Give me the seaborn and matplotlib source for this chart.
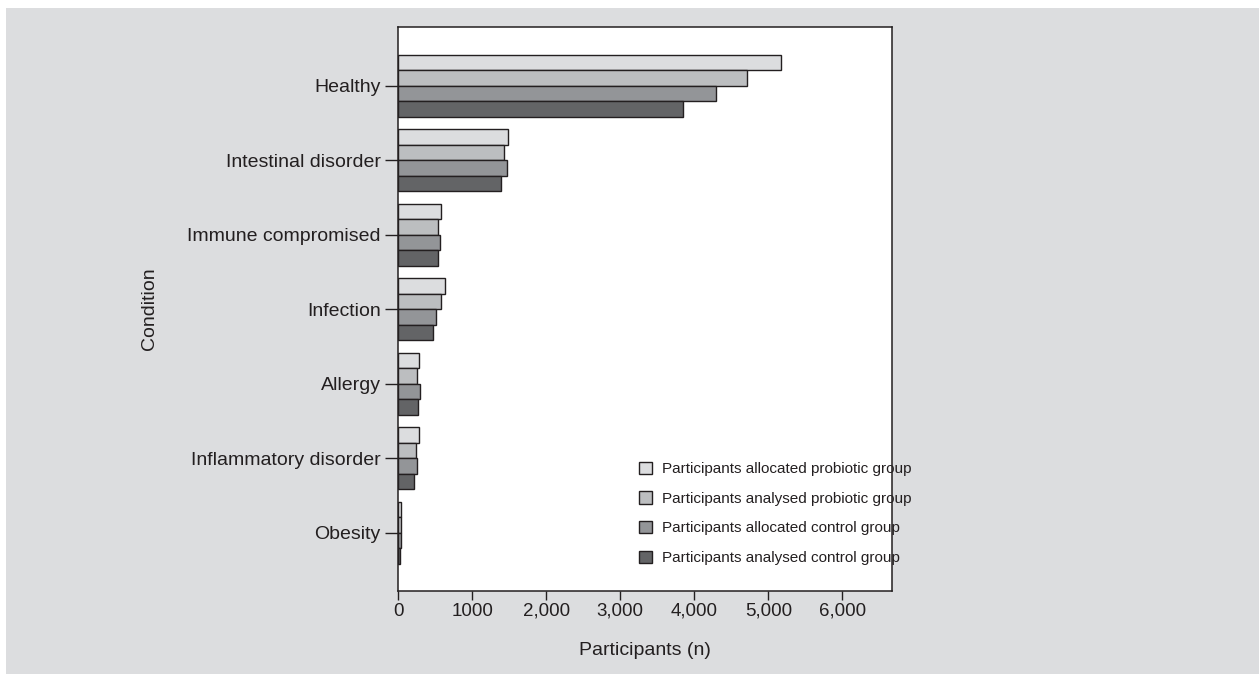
import pandas as pd
import numpy as np
import matplotlib
matplotlib.use('Agg')
import matplotlib.pyplot as plt
from matplotlib.patches import Patch, Rectangle
import seaborn as sns

# 데이터
conditions = ['Healthy', 'Intestinal disorder', 'Immune compromised', 'Infection',
              'Allergy', 'Inflammatory disorder', 'Obesity']
groups = ['Participants allocated probiotic group',
          'Participants analysed probiotic group',
          'Participants allocated control group',
          'Participants analysed control group']
alloc_probiotic = [5175, 1490, 574, 633, 289, 277, 42]
analysed_probiotic = [4708, 1430, 541, 587, 256, 243, 42]
alloc_control = [4296, 1467, 566, 507, 298, 256, 38]
analysed_control = [3854, 1387, 536, 478, 268, 214, 29]
xticks = [0, 1000, 2000, 3000, 4000, 5000, 6000]
xtick_labels = ['0', '1000', '2,000', '3,000', '4,000', '5,000', '6,000']
bar_colors = ['#dcdddf', '#bcbec0', '#939598', '#636466']

df = pd.DataFrame({
    'condition': conditions * 4,
    'group': [g for g in groups for _ in conditions],
    'n': alloc_probiotic + analysed_probiotic + alloc_control + analysed_control,
})

sns.set_style('white')
plt.rcParams['font.family'] = ['Liberation Sans', 'DejaVu Sans']
dark = '#231f20'

fig = plt.figure(figsize=(12.59, 6.74), dpi=100)
fig.patch.set_facecolor('white')
fig.patches.append(Rectangle((6 / 1259, 0), 1253 / 1259, 666 / 674,
                             transform=fig.transFigure, facecolor='#dcdddf',
                             edgecolor='none', zorder=-10))

ax = fig.add_axes([398 / 1259, 1 - 591 / 674, 494 / 1259, 564 / 674])
ax.set_facecolor('white')

sns.barplot(data=df, y='condition', x='n', hue='group', orient='h',
            palette=bar_colors, order=conditions, hue_order=groups,
            width=0.83, edgecolor=dark, linewidth=1.0, saturation=1,
            errorbar=None, legend=False, ax=ax)

ax.set_xlim(0, 6670)
ax.set_ylim(6.78, -0.79)
ax.set_xticks(xticks)
ax.set_xticklabels(xtick_labels)

for s in ax.spines.values():
    s.set_visible(True)
    s.set_color(dark)
    s.set_linewidth(1.1)

ax.tick_params(axis='y', which='major', direction='out', length=9.5, width=1.0,
               color=dark, labelsize=14, labelcolor=dark, pad=3, left=True)
ax.tick_params(axis='x', which='major', direction='out', length=6.5, width=1.0,
               color=dark, labelsize=13.5, labelcolor=dark, pad=2, bottom=True)

ax.set_xlabel('Participants (n)', fontsize=14, color=dark)
ax.set_ylabel('Condition', fontsize=14, color=dark)
ax.xaxis.set_label_coords(0.5, -0.09)
ax.yaxis.set_label_coords(-0.486, 0.5)

handles = [Patch(facecolor=c, edgecolor=dark, linewidth=1.0) for c in bar_colors]
ax.legend(handles, groups, loc='lower left', bbox_to_anchor=(0.475, 0.035),
          frameon=False, fontsize=11, handlelength=0.85, handleheight=0.85,
          handletextpad=0.65, labelspacing=1.0, borderaxespad=0,
          labelcolor=dark)

fig.savefig('out.png', dpi=100, facecolor=fig.get_facecolor())
